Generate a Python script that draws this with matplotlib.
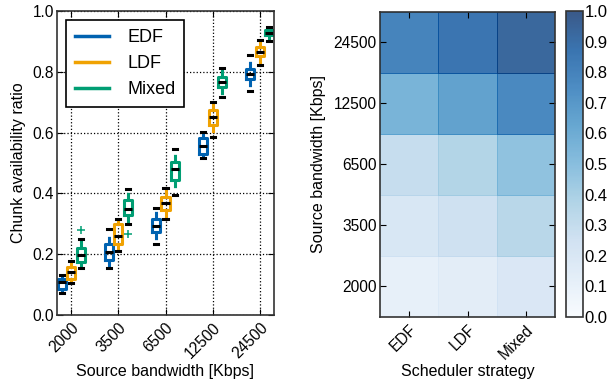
import numpy as np
import matplotlib
matplotlib.use("Agg")
import matplotlib.pyplot as plt

plt.rcParams['font.family'] = ['Liberation Sans', 'DejaVu Sans']
plt.rcParams['font.size'] = 11.2

bandwidths = ["2000", "3500", "6500", "12500", "24500"]
strategies = ["EDF", "LDF", "Mixed"]
colors = {"EDF": "#0062B0", "LDF": "#F0A202", "Mixed": "#009E73"}

# box statistics, one value per bandwidth
med = {
    "EDF":   [0.109, 0.208, 0.292, 0.555, 0.794],
    "LDF":   [0.140, 0.260, 0.368, 0.650, 0.866],
    "Mixed": [0.197, 0.348, 0.481, 0.767, 0.929],
}
q1 = {
    "EDF":   [0.087, 0.180, 0.273, 0.528, 0.776],
    "LDF":   [0.120, 0.235, 0.344, 0.626, 0.852],
    "Mixed": [0.175, 0.328, 0.445, 0.751, 0.920],
}
q3 = {
    "EDF":   [0.120, 0.235, 0.317, 0.583, 0.809],
    "LDF":   [0.158, 0.300, 0.388, 0.674, 0.882],
    "Mixed": [0.222, 0.379, 0.503, 0.784, 0.938],
}
whislo = {
    "EDF":   [0.071, 0.153, 0.232, 0.516, 0.738],
    "LDF":   [0.106, 0.210, 0.315, 0.587, 0.822],
    "Mixed": [0.156, 0.300, 0.396, 0.718, 0.902],
}
whishi = {
    "EDF":   [0.133, 0.282, 0.353, 0.601, 0.856],
    "LDF":   [0.177, 0.317, 0.419, 0.702, 0.905],
    "Mixed": [0.251, 0.415, 0.546, 0.814, 0.949],
}
fliers = {
    "EDF":   [[], [], [], [], []],
    "LDF":   [[], [], [], [], []],
    "Mixed": [[0.279], [0.268], [], [], []],
}

# mean availability ratio per bandwidth (rows) and strategy (cols)
mean_ratio = np.array([
    [0.106, 0.138, 0.195],
    [0.207, 0.258, 0.347],
    [0.293, 0.370, 0.480],
    [0.556, 0.651, 0.766],
    [0.793, 0.866, 0.930],
])

fig = plt.figure(figsize=(6.09, 3.87), dpi=100)
ax = fig.add_axes([57 / 609, 1 - 315 / 387, (274 - 57) / 609, (315 - 11) / 387])

offsets = {"EDF": -0.2, "LDF": 0.0, "Mixed": 0.2}
for s in strategies:
    stats = []
    for i in range(len(bandwidths)):
        stats.append(dict(med=med[s][i], q1=q1[s][i], q3=q3[s][i],
                          whislo=whislo[s][i], whishi=whishi[s][i],
                          fliers=fliers[s][i]))
    pos = np.arange(len(bandwidths)) + offsets[s]
    c = colors[s]
    ax.bxp(stats, positions=pos, widths=0.17, showfliers=True,
           boxprops=dict(color=c, lw=2.2),
           whiskerprops=dict(color=c, lw=2.2, linestyle=(0, (2.5, 2.5))),
           capprops=dict(color='black', lw=2.2),
           medianprops=dict(color='black', lw=2.2),
           flierprops=dict(marker='+', markeredgecolor=c, markersize=6,
                           markeredgewidth=1.1))
    ax.plot([], [], color=c, lw=2.5, label=s)

ax.set_xlim(-0.3, 4.3)
ax.set_ylim(0, 1.0)
ax.set_xticks(np.arange(len(bandwidths)))
ax.set_xticklabels(bandwidths, rotation=45, ha='right', rotation_mode='anchor')
ax.set_yticks(np.arange(0, 1.01, 0.2))
ax.yaxis.set_major_formatter(matplotlib.ticker.FormatStrFormatter('%.1f'))
ax.grid(True, color='black', linestyle=':', lw=0.9)
ax.set_axisbelow(True)
ax.tick_params(direction='in', top=True, right=True, length=4)
ax.tick_params(axis='y', pad=2)
ax.set_xlabel("Source bandwidth [Kbps]", fontsize=11.5, labelpad=2)
ax.set_ylabel("Chunk availability ratio", fontsize=11.5, labelpad=5)
for sp in ax.spines.values():
    sp.set_color('#333333')
    sp.set_linewidth(1.2)
leg = ax.legend(loc='upper left', fontsize=13, fancybox=False,
                framealpha=1, edgecolor='black', handlelength=1.9,
                borderpad=0.5, labelspacing=0.5, handletextpad=1.0,
                borderaxespad=0, bbox_to_anchor=(0.04, 0.97))
leg.get_frame().set_linewidth(1.2)

# heatmap
hx = fig.add_axes([380 / 609, 1 - 317 / 387, (555 - 380) / 609, (317 - 11.5) / 387])
mesh = hx.pcolormesh(mean_ratio, cmap='Blues', vmin=0, vmax=1, alpha=0.8,
                     edgecolors='face', linewidth=0.6)
hx.set_xlim(0, 3)
hx.set_ylim(0, 5)
hx.set_xticks(np.arange(3) + 0.5)
hx.set_xticklabels(strategies, rotation=45, ha='right', rotation_mode='anchor')
hx.set_yticks(np.arange(5) + 0.5)
hx.set_yticklabels(bandwidths)
hx.tick_params(direction='in', top=True, right=True, length=4)
hx.tick_params(axis='y', pad=2.5)
hx.set_xlabel("Scheduler strategy", fontsize=11.5, labelpad=2)
hx.set_ylabel("Source bandwidth [Kbps]", fontsize=11.5, labelpad=5)
for sp in hx.spines.values():
    sp.set_color('#333333')
    sp.set_linewidth(1.2)

cax = fig.add_axes([566 / 609, 1 - 317 / 387, (583 - 566) / 609, (317 - 11) / 387])
cb = fig.colorbar(mesh, cax=cax, ticks=np.arange(0, 1.01, 0.1))
cb.ax.yaxis.set_major_formatter(matplotlib.ticker.FormatStrFormatter('%.1f'))
cb.ax.tick_params(length=0, labelsize=12, pad=1)
cb.outline.set_edgecolor('#333333')
cb.outline.set_linewidth(1.2)

fig.savefig("out.png", dpi=100)
